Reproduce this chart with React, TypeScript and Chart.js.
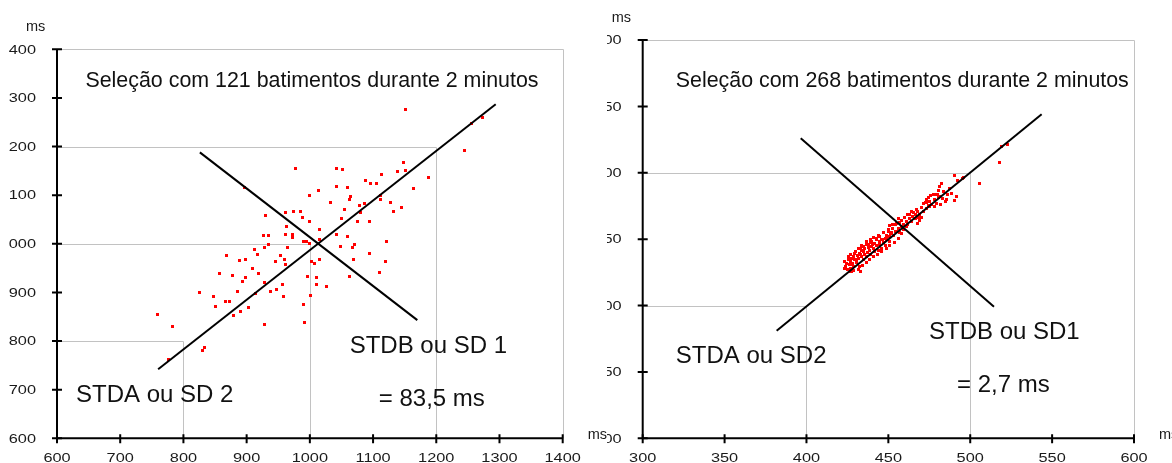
import { useEffect, useRef } from "react";
import { Chart, registerables } from "chart.js";

Chart.register(...registerables);

// ---------- data: RR(n) vs RR(n+1), in ms ----------

// Panel A: 121 beats over 2 minutes
const beatsA: [number, number][] = [
  [977, 1155], [896, 1115], [1000, 1100], [1013, 1110], [962, 1064], [974, 1067], [985, 1067], [989, 1055],
  [930, 1059], [1000, 1046], [963, 1035], [1016, 1030], [927, 1017], [935, 1018], [962, 1020], [972, 1020],
  [972, 1013], [990, 1004], [994, 1004], [1000, 1000], [1016, 1008], [928, 993], [935, 998], [964, 993],
  [913, 988], [917, 978], [868, 976], [888, 966], [898, 967], [954, 976], [960, 967], [946, 963],
  [961, 958], [1002, 964], [1008, 959], [1015, 967], [909, 950], [919, 939], [857, 939], [878, 934],
  [898, 930], [894, 922], [929, 920], [956, 916], [948, 906], [937, 901], [914, 898], [997, 932],
  [1010, 931], [1010, 917], [886, 901], [826, 899], [847, 892], [959, 891], [1001, 893], [866, 882],
  [873, 882], [850, 871], [903, 870], [890, 860], [879, 852], [990, 876], [759, 854], [782, 830],
  [929, 834], [991, 838], [834, 786], [830, 780], [777, 763],
  [1152, 1277], [1255, 1248], [1273, 1259], [1244, 1191], [1148, 1168], [1151, 1151], [1139, 1148], [1114, 1143],
  [1042, 1155], [1051, 1152], [1187, 1136], [1088, 1131], [1096, 1124], [1106, 1124], [1042, 1118], [1060, 1116],
  [1164, 1114], [1064, 1098], [1063, 1091], [1111, 1100], [1111, 1092], [1032, 1084], [1078, 1078], [1087, 1082],
  [1127, 1084], [1145, 1074], [1055, 1071], [1080, 1064], [1132, 1066], [1050, 1052], [1075, 1046], [1094, 1046],
  [1042, 1019], [1060, 1014], [1121, 1004], [1048, 995], [1070, 998], [1067, 992], [1095, 980], [1069, 968],
  [1120, 963], [1110, 941], [1062, 932], [1026, 913],
];

// Panel B: 268 beats over 2 minutes
const beatsB: [number, number][] = [
  [522.9, 521.2], [519.2, 519.9], [517.8, 507.9], [505.8, 491.8], [490.1, 497.8], [492.3, 494.0], [495.4, 495.8], [496.0, 496.8],
  [482.2, 492.0], [481.1, 489.5], [487.6, 488.3], [480.9, 486.5], [491.9, 482.0], [490.1, 479.0], [485.6, 480.2], [482.8, 480.7],
  [477.5, 484.0], [479.5, 483.3], [476.0, 482.8], [474.4, 481.2], [473.0, 480.2], [477.9, 480.2], [480.5, 481.2], [475.4, 478.7],
  [479.1, 477.0], [472.4, 477.7], [471.4, 476.7], [474.6, 475.7], [478.1, 474.5], [479.9, 483.3], [481.5, 482.5],
  [467.7, 471.2], [465.3, 470.2], [463.2, 468.7], [466.3, 468.2], [468.9, 468.7], [470.3, 466.2], [468.9, 464.4], [467.7, 461.7],
  [464.8, 466.9], [462.8, 465.7], [461.2, 463.2], [458.1, 464.4], [456.1, 465.2], [457.1, 462.7], [459.2, 461.2], [460.8, 459.4],
  [458.1, 459.4], [456.1, 458.1], [454.1, 460.7], [451.0, 460.2], [452.6, 458.1], [455.1, 456.1], [450.0, 455.6],
  [453.0, 453.1], [451.0, 451.9], [449.0, 453.1], [448.0, 450.6], [445.9, 449.4], [446.9, 447.6], [444.5, 448.1], [442.9, 449.4],
  [441.8, 446.9], [440.4, 445.6], [438.8, 447.6], [439.8, 444.4], [437.8, 443.6], [436.8, 446.1], [435.7, 442.6], [434.7, 444.4],
  [433.7, 441.1], [432.3, 439.3], [433.1, 443.1], [431.1, 437.6], [430.2, 440.6], [428.6, 436.8], [429.6, 434.3], [427.6, 435.5],
  [426.6, 433.0], [425.6, 434.3], [424.6, 431.8], [424.1, 429.3], [426.2, 430.6], [428.2, 431.8], [429.0, 429.3], [427.0, 428.0],
  [425.0, 426.8], [431.7, 435.5], [433.7, 436.8], [435.7, 438.6], [437.2, 440.1], [438.4, 441.8], [440.8, 442.6], [442.9, 445.1],
  [444.9, 446.1], [449.0, 449.4], [452.0, 455.1], [433.1, 425.5], [430.7, 432.5], [434.7, 434.3], [436.8, 436.8], [439.2, 438.1],
  [441.8, 440.6], [443.9, 441.8], [445.9, 443.1], [448.0, 445.1], [450.6, 448.1], [432.3, 429.3], [427.8, 426.0], [423.5, 428.0],
  [423.5, 433.0], [425.6, 436.8], [427.0, 438.6], [429.6, 439.3], [431.7, 442.6], [433.7, 445.1], [436.4, 448.1], [438.8, 450.1],
  [440.8, 451.1], [443.9, 453.1], [446.9, 455.1], [450.0, 457.6], [452.6, 460.7], [455.1, 461.9], [426.6, 425.5], [429.0, 426.3],
  [431.7, 427.5], [434.3, 430.5], [436.4, 432.5], [438.4, 435.0], [440.8, 436.8], [443.3, 438.6], [445.9, 440.6], [448.6, 442.6],
  [451.0, 445.1], [453.5, 447.6], [456.1, 450.6], [458.1, 454.4], [427.6, 431.0], [430.7, 435.0], [432.7, 438.1], [435.1, 440.6],
  [437.8, 445.6], [439.8, 448.6], [442.5, 450.6], [444.9, 451.9], [446.5, 449.4], [448.6, 451.1], [451.4, 454.4], [454.1, 456.1],
  [456.7, 455.1], [459.2, 457.6], [461.6, 461.2], [464.2, 463.2], [466.3, 465.7], [468.3, 466.2], [471.4, 470.7], [473.4, 473.2],
  [475.4, 474.5], [476.5, 476.2], [473.4, 477.7], [470.3, 473.7], [466.9, 472.7], [464.2, 471.2], [461.6, 468.2], [459.6, 466.2],
  [483.6, 485.8], [486.0, 483.8], [488.7, 484.5], [484.6, 478.2], [481.9, 476.2],
];

// SD1 / SD2 axes of the fitted ellipse (end points, ms)
const axisAlongA: [number, number][] = [[760, 742], [1294, 1287]];
const axisAcrossA: [number, number][] = [[826, 1188], [1170, 843]];
const axisAlongB: [number, number][] = [[381.8, 381], [543.6, 544]];
const axisAcrossB: [number, number][] = [[396.5, 526], [514.5, 399.1]];

// axis ticks and their printed labels
const ticksA = [600, 700, 800, 900, 1000, 1100, 1200, 1300, 1400];
const xLabelsA = ["600", "700", "800", "900", "1000", "1100", "1200", "1300", "1400"];
const yLabelsA = ["600", "700", "800", "900", "000", "100", "200", "300", "400"];
const ticksB = [300, 350, 400, 450, 500, 550, 600];
const xLabelsB = ["300", "350", "400", "450", "500", "550", "600"];
const yLabelsB = ["300", "350", "400", "450", "500", "550", "600"];

// values where the nested square guides are drawn
const squaresA = [800, 1000, 1200, 1400];
const squaresB = [400, 500, 600];

const titleA = "Seleção com 121 batimentos durante 2 minutos";
const titleB = "Seleção com 268 batimentos durante 2 minutos";

// ---------- styling ----------
const FAMILY = '"Liberation Sans", Arial, Helvetica, sans-serif';
const GUIDE = "#c2c2c2";
const INK = "#111111";
const TICK_STRETCH = 1.36;

type Note = { text: string; x: number; y: number; size: number };

type Panel = {
  left: number;
  width: number;
  pad: { left: number; top: number; right: number; bottom: number };
  min: number;
  max: number;
  ticks: number[];
  xLabels: string[];
  yLabels: string[];
  squares: number[];
  beats: [number, number][];
  along: [number, number][];
  across: [number, number][];
  notes: Note[];
};

const panelA: Panel = {
  left: 0,
  width: 620,
  pad: { left: 57, top: 49.3, right: 57.3, bottom: 24.7 },
  min: 600,
  max: 1400,
  ticks: ticksA,
  xLabels: xLabelsA,
  yLabels: yLabelsA,
  squares: squaresA,
  beats: beatsA,
  along: axisAlongA,
  across: axisAcrossA,
  notes: [
    { text: titleA, x: 645, y: 1322, size: 21.4 },
    { text: "STDB ou SD 1", x: 1063, y: 776, size: 24 },
    { text: "= 83,5 ms", x: 1109, y: 667, size: 24 },
    { text: "STDA ou SD 2", x: 630, y: 675, size: 24 },
  ],
};

const panelB: Panel = {
  left: 607,
  width: 565,
  pad: { left: 35.7, top: 40, right: 38, bottom: 24.7 },
  min: 300,
  max: 600,
  ticks: ticksB,
  xLabels: xLabelsB,
  yLabels: yLabelsB,
  squares: squaresB,
  beats: beatsB,
  along: axisAlongB,
  across: axisAcrossB,
  notes: [
    { text: titleB, x: 320.2, y: 564.6, size: 21.4 },
    { text: "STDA ou SD2", x: 320.2, y: 356.5, size: 24 },
    { text: "STDB ou SD1", x: 474.8, y: 374.6, size: 24 },
    { text: "= 2,7 ms", x: 491.9, y: 334.6, size: 24 },
  ],
};

function makeDot(): HTMLCanvasElement {
  const c = document.createElement("canvas");
  c.width = 3;
  c.height = 3;
  const g = c.getContext("2d");
  if (g) {
    g.fillStyle = "#ff0000";
    g.fillRect(0, 0, 3, 3);
  }
  return c;
}

function stretchedText(ctx: CanvasRenderingContext2D, text: string, x: number, y: number, align: CanvasTextAlign) {
  ctx.save();
  ctx.translate(x, y);
  ctx.scale(TICK_STRETCH, 1);
  ctx.textAlign = align;
  ctx.fillText(text, 0, 0);
  ctx.restore();
}

function framePlugin(p: Panel) {
  return {
    id: "poincareFrame",
    beforeDatasetsDraw(chart: any) {
      const { ctx, scales } = chart;
      const sx = scales.x;
      const sy = scales.y;
      ctx.save();
      ctx.strokeStyle = GUIDE;
      ctx.lineWidth = 1;
      for (const v of p.squares) {
        const X = Math.round(sx.getPixelForValue(v)) + 0.5;
        const Y = Math.round(sy.getPixelForValue(v)) + 0.5;
        ctx.beginPath();
        ctx.moveTo(sx.getPixelForValue(p.min), Y);
        ctx.lineTo(X, Y);
        ctx.lineTo(X, sy.getPixelForValue(p.min));
        ctx.stroke();
      }
      ctx.restore();
      // keep the beat markers pixel-sharp
      ctx.imageSmoothingEnabled = false;
    },
    afterDatasetsDraw(chart: any) {
      const { ctx, scales, chartArea: a } = chart;
      const sx = scales.x;
      const sy = scales.y;
      ctx.save();
      // axes
      ctx.strokeStyle = "#000";
      ctx.lineWidth = 2;
      ctx.beginPath();
      ctx.moveTo(a.left, a.top);
      ctx.lineTo(a.left, a.bottom);
      ctx.lineTo(a.right, a.bottom);
      ctx.stroke();
      // tick marks crossing the axes
      ctx.beginPath();
      for (const t of p.ticks) {
        const X = sx.getPixelForValue(t);
        const Y = sy.getPixelForValue(t);
        ctx.moveTo(X, a.bottom - 4);
        ctx.lineTo(X, a.bottom + 5);
        ctx.moveTo(a.left - 5, Y);
        ctx.lineTo(a.left + 5, Y);
      }
      ctx.stroke();
      // tick labels
      ctx.fillStyle = "#1a1a1a";
      ctx.font = `12px ${FAMILY}`;
      ctx.textBaseline = "alphabetic";
      p.ticks.forEach((t, i) => {
        stretchedText(ctx, p.xLabels[i], sx.getPixelForValue(t), a.bottom + 23.2, "center");
        stretchedText(ctx, p.yLabels[i], a.left - 21, sy.getPixelForValue(t) + 4.3, "right");
      });
      // unit labels
      ctx.font = `14.5px ${FAMILY}`;
      ctx.textAlign = "left";
      ctx.fillText("ms", a.left - 31, a.top - 18.5);
      ctx.fillText("ms", a.right + 25, a.bottom + 0.8);
      // annotations
      ctx.fillStyle = INK;
      for (const n of p.notes) {
        ctx.font = `${n.size}px ${FAMILY}`;
        ctx.fillText(n.text, sx.getPixelForValue(n.x), sy.getPixelForValue(n.y));
      }
      ctx.restore();
    },
  };
}

function PoincarePanel({ panel }: { panel: Panel }) {
  const ref = useRef<HTMLCanvasElement | null>(null);

  useEffect(() => {
    const canvas = ref.current;
    if (!canvas) return;
    const dot = makeDot();
    const toXY = (pts: [number, number][]) => pts.map(([x, y]) => ({ x, y }));
    const line = (pts: [number, number][]) => ({
      type: "line" as const,
      data: toXY(pts),
      borderColor: "#000",
      borderWidth: 2,
      pointRadius: 0,
      fill: false,
      tension: 0,
      order: 0,
    });
    const chart = new Chart(canvas, {
      type: "scatter",
      data: {
        datasets: [
          line(panel.along) as any,
          line(panel.across) as any,
          {
            data: toXY(panel.beats),
            pointStyle: dot,
            pointRadius: 2,
            backgroundColor: "#ff0000",
            borderWidth: 0,
            order: 2,
          },
        ],
      },
      options: {
        responsive: false,
        animation: false,
        devicePixelRatio: 1,
        events: [],
        layout: { padding: panel.pad },
        plugins: { legend: { display: false }, tooltip: { enabled: false } },
        scales: {
          x: { type: "linear", display: false, min: panel.min, max: panel.max },
          y: { type: "linear", display: false, min: panel.min, max: panel.max },
        },
      },
      plugins: [framePlugin(panel)],
    });
    return () => chart.destroy();
  }, [panel]);

  return (
    <canvas
      ref={ref}
      width={panel.width}
      height={463}
      style={{ position: "absolute", left: panel.left, top: 0, width: panel.width, height: 463 }}
    />
  );
}

export default function App() {
  return (
    <div
      style={{
        position: "fixed",
        left: 0,
        top: 0,
        width: 1172,
        height: 463,
        background: "#ffffff",
        overflow: "hidden",
      }}
    >
      <PoincarePanel panel={panelA} />
      <PoincarePanel panel={panelB} />
    </div>
  );
}
